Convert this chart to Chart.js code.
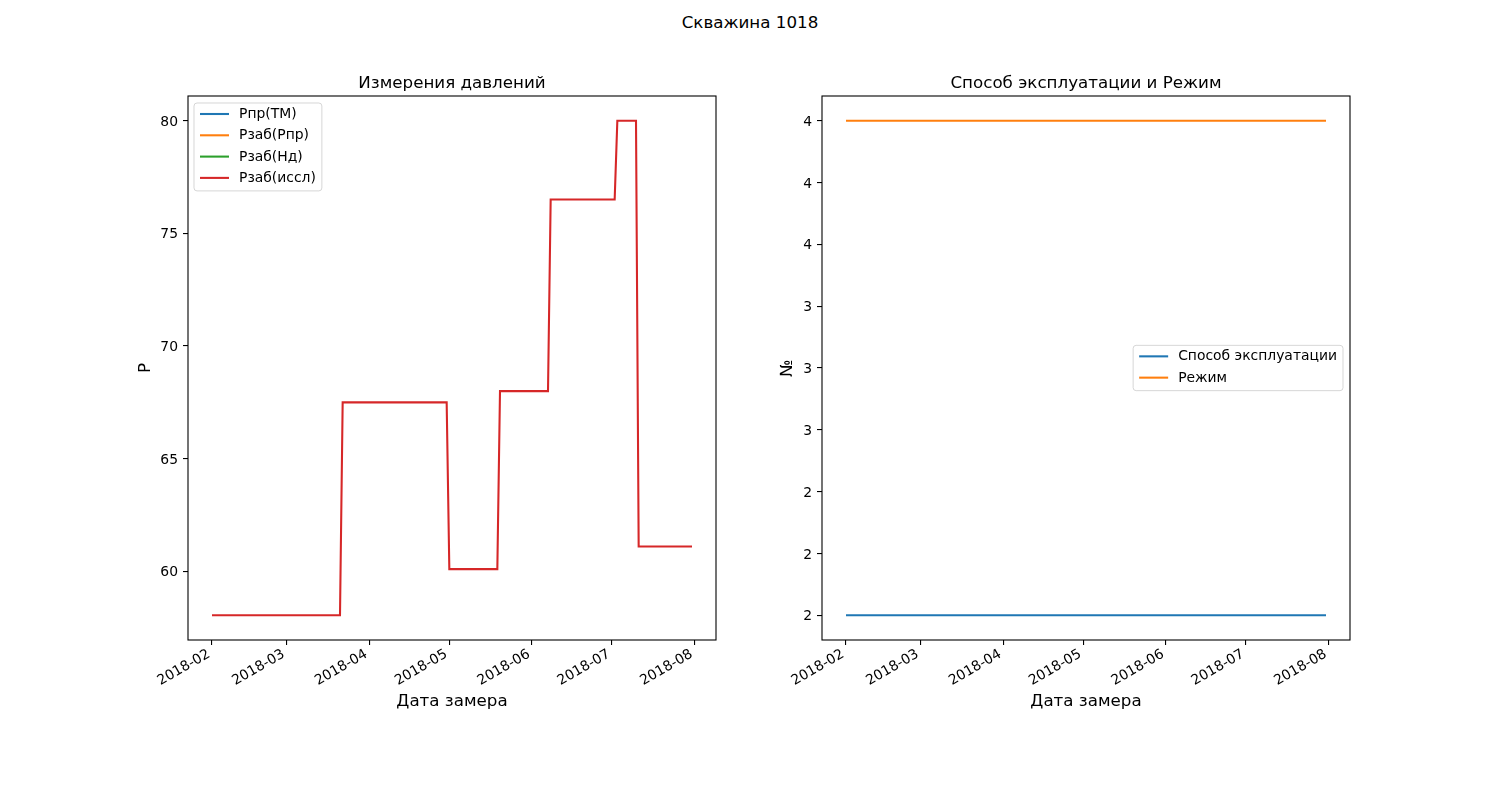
<!DOCTYPE html>
<html>
<head>
<meta charset="utf-8">
<style>
    body { margin: 0; background: #fff; font-family: "DejaVu Sans", sans-serif; }
    #wrap { position: relative; width: 1500px; height: 800px; }
    #suptitle { position: absolute; top: 12px; left: 0; width: 1500px; text-align: center; font-size: 16.7px; line-height: 20px; color: #000; }
    .box { position: absolute; top: 0; width: 750px; height: 800px; }
</style>
</head>
<body>
<script src="https://cdn.jsdelivr.net/npm/chart.js"></script>
<div id="wrap">
    <div id="suptitle">Скважина 1018</div>
    <div class="box" style="left:0"><canvas id="left" width="750" height="800"></canvas></div>
    <div class="box" style="left:750px"><canvas id="right" width="750" height="800"></canvas></div>
</div>
<script>
    // pressure measurements (left panel)
    const pressureDates = ['2018-02-01', '2018-03-21', '2018-03-22', '2018-04-30', '2018-05-01', '2018-05-19', '2018-05-20',
        '2018-06-07', '2018-06-08', '2018-07-02', '2018-07-03', '2018-07-10', '2018-07-11', '2018-07-31'];
    const pprTM = [];
    const pzabPpr = [];
    const pzabNd = [];
    const pzabIssl = [58.05, 58.05, 67.5, 67.5, 60.1, 60.1, 68.0, 68.0, 76.5, 76.5, 80.0, 80.0, 61.1, 61.1];
    const pressureTicks = [60, 65, 70, 75, 80];

    // operation mode (right panel)
    const modeDates = ['2018-02-01', '2018-07-31'];
    const sposob = [2, 2];
    const rezhim = [4, 4];
    const modeTicks = [2, 2.25, 2.5, 2.75, 3, 3.25, 3.5, 3.75, 4];
    const modeTickLabels = ['2', '2', '2', '3', '3', '3', '4', '4', '4'];

    const monthTicks = ['2018-02-01', '2018-03-01', '2018-04-01', '2018-05-01', '2018-06-01', '2018-07-01', '2018-08-01'];
    const monthLabels = ['2018-02', '2018-03', '2018-04', '2018-05', '2018-06', '2018-07', '2018-08'];

    const FONT = '"DejaVu Sans", sans-serif';
    const colors = ['#1f77b4', '#ff7f0e', '#2ca02c', '#d62728'];

    function dayNum(s) {
        const p = s.split('-');
        return Date.UTC(+p[0], +p[1] - 1, +p[2]) / 86400000;
    }
    function points(dates, vals) {
        return vals.map((v, i) => ({x: dayNum(dates[i]), y: v}));
    }
    function padded(lo, hi) {
        const m = (hi - lo) * 0.05;
        return [lo - m, hi + m];
    }

    const frame = {
        id: 'frame',
        afterDatasetsDraw(chart) {
            const a = chart.chartArea, ctx = chart.ctx;
            ctx.save();
            ctx.strokeStyle = '#000';
            ctx.lineWidth = 1.1;
            ctx.strokeRect(a.left, a.top, a.right - a.left, a.bottom - a.top);
            ctx.restore();
        }
    };

    // axes title centred over the plot area, like matplotlib
    const axTitle = {
        id: 'axTitle',
        afterDraw(chart, args, opts) {
            const a = chart.chartArea, ctx = chart.ctx;
            ctx.save();
            ctx.font = '16.7px ' + FONT;
            ctx.fillStyle = '#000';
            ctx.textAlign = 'center';
            ctx.textBaseline = 'alphabetic';
            ctx.fillText(opts.text, (a.left + a.right) / 2, a.top - 8);
            ctx.restore();
        }
    };

    // matplotlib style legend box
    const boxLegend = {
        id: 'boxLegend',
        afterDraw(chart, args, opts) {
            const ctx = chart.ctx, a = chart.chartArea;
            const items = chart.data.datasets;
            const fs = 13.9, row = 21.3, handle = 29, gap = 10;
            ctx.save();
            ctx.font = fs + 'px ' + FONT;
            const tw = Math.max(...items.map(d => ctx.measureText(d.label).width));
            const w = 6 + handle + gap + tw + 6;
            const h = 11 + row * (items.length - 1) + 13;
            let x0, y0;
            if (opts.where === 'right') {
                x0 = a.right - 7 - w;
                y0 = (a.top + a.bottom) / 2 - h / 2;
            } else {
                x0 = a.left + 6;
                y0 = a.top + 7;
            }
            ctx.beginPath();
            ctx.roundRect(x0, y0, w, h, 3);
            ctx.fillStyle = 'rgba(255,255,255,0.8)';
            ctx.fill();
            ctx.strokeStyle = 'rgba(204,204,204,0.8)';
            ctx.lineWidth = 1;
            ctx.stroke();
            ctx.textBaseline = 'middle';
            ctx.fillStyle = '#000';
            items.forEach((d, i) => {
                const y = y0 + 11 + i * row;
                ctx.beginPath();
                ctx.moveTo(x0 + 6, y);
                ctx.lineTo(x0 + 6 + handle, y);
                ctx.strokeStyle = d.borderColor;
                ctx.lineWidth = 2.08;
                ctx.stroke();
                ctx.fillText(d.label, x0 + 6 + handle + gap, y + 0.5);
            });
            ctx.restore();
        }
    };

    function lineSet(label, data, color) {
        return {label: label, data: data, borderColor: color, backgroundColor: color,
            borderWidth: 2.08, pointRadius: 0, tension: 0, fill: false};
    }

    function xScale(dates) {
        const [lo, hi] = padded(dayNum(dates[0]), dayNum(dates[dates.length - 1]));
        const tickVals = monthTicks.map(dayNum);
        return {
            type: 'linear', min: lo, max: hi,
            afterBuildTicks: (ax) => { ax.ticks = tickVals.map(v => ({value: v})); },
            afterFit: (ax) => { ax.height = 72; },
            ticks: {
                autoSkip: false, minRotation: 30, maxRotation: 30, padding: 1, labelOffset: -3, color: '#000',
                font: {family: FONT, size: 13.9},
                callback: (v) => monthLabels[tickVals.indexOf(v)]
            },
            grid: {display: true, drawOnChartArea: false, drawTicks: true, tickLength: 5, color: '#000', lineWidth: 1.1},
            border: {display: false},
            title: {display: true, text: 'Дата замера', color: '#000', font: {family: FONT, size: 16.7}, padding: {top: 0, bottom: 0}}
        };
    }

    function yScale(lo, hi, tickVals, labels, width, title) {
        return {
            type: 'linear', min: lo, max: hi,
            afterBuildTicks: (ax) => { ax.ticks = tickVals.map(v => ({value: v})); },
            afterFit: (ax) => { ax.width = width; },
            ticks: {
                padding: 5, labelOffset: 1.5, color: '#000', font: {family: FONT, size: 13.9},
                callback: (v) => labels ? labels[tickVals.indexOf(v)] : String(v)
            },
            grid: {display: true, drawOnChartArea: false, drawTicks: true, tickLength: 5, color: '#000', lineWidth: 1.1},
            border: {display: false},
            title: {display: true, text: title, color: '#000', font: {family: FONT, size: 16.7}, padding: {top: 6, bottom: 0}}
        };
    }

    const allP = pzabIssl.concat(pprTM, pzabPpr, pzabNd);
    const [pLo, pHi] = padded(Math.min(...allP), Math.max(...allP));

    new Chart(document.getElementById('left'), {
        type: 'line',
        data: {
            datasets: [
                lineSet('Рпр(ТМ)', points(pressureDates, pprTM), colors[0]),
                lineSet('Рзаб(Рпр)', points(pressureDates, pzabPpr), colors[1]),
                lineSet('Рзаб(Нд)', points(pressureDates, pzabNd), colors[2]),
                lineSet('Рзаб(иссл)', points(pressureDates, pzabIssl), colors[3])
            ]
        },
        options: {
            responsive: false,
            animation: false,
            layout: {padding: {left: 130, right: 34, top: 96, bottom: 88}},
            scales: {
                x: xScale(pressureDates),
                y: yScale(pLo, pHi, pressureTicks, null, 58, 'P')
            },
            plugins: {
                legend: {display: false},
                tooltip: {enabled: false},
                title: {display: false},
                axTitle: {text: 'Измерения давлений'},
                boxLegend: {where: 'left'}
            }
        },
        plugins: [frame, axTitle, boxLegend]
    });

    const allM = sposob.concat(rezhim);
    const [mLo, mHi] = padded(Math.min(...allM), Math.max(...allM));

    new Chart(document.getElementById('right'), {
        type: 'line',
        data: {
            datasets: [
                lineSet('Способ эксплуатации', points(modeDates, sposob), colors[0]),
                lineSet('Режим', points(modeDates, rezhim), colors[1])
            ]
        },
        options: {
            responsive: false,
            animation: false,
            layout: {padding: {left: 22, right: 150, top: 96, bottom: 88}},
            scales: {
                x: xScale(modeDates),
                y: yScale(mLo, mHi, modeTicks, modeTickLabels, 50, '№')
            },
            plugins: {
                legend: {display: false},
                tooltip: {enabled: false},
                title: {display: false},
                axTitle: {text: 'Способ эксплуатации и Режим'},
                boxLegend: {where: 'right'}
            }
        },
        plugins: [frame, axTitle, boxLegend]
    });
</script>
</body>
</html>
